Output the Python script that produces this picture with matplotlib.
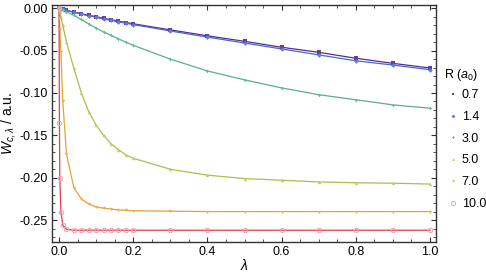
import numpy as np
import matplotlib
matplotlib.use("Agg")
import matplotlib.pyplot as plt
from matplotlib.ticker import MultipleLocator, FormatStrFormatter

plt.rcParams['font.family'] = ['Liberation Sans', 'DejaVu Sans']
plt.rcParams['mathtext.fontset'] = 'custom'
plt.rcParams['mathtext.rm'] = 'Liberation Sans'
plt.rcParams['mathtext.it'] = 'Liberation Sans:italic'

# coupling strength grid
lam = [0, 0.001, 0.002, 0.005, 0.01, 0.02, 0.04, 0.06, 0.08, 0.1, 0.12, 0.14,
       0.16, 0.18, 0.2, 0.3, 0.4, 0.5, 0.6, 0.7, 0.8, 0.9, 1.0]

r_labels = ['0.7', '1.4', '3.0', '5.0', '7.0', '10.0']

w_07 = [0, -0.0001, -0.0003, -0.0007, -0.0013, -0.0025, -0.0045, -0.0065, -0.0083,
        -0.010, -0.0118, -0.0135, -0.0152, -0.0168, -0.0183, -0.0255, -0.0325,
        -0.039, -0.046, -0.052, -0.059, -0.065, -0.0705]
w_14 = [0, -0.0001, -0.0003, -0.0007, -0.0014, -0.0027, -0.0048, -0.0069, -0.0088,
        -0.0107, -0.0125, -0.0143, -0.016, -0.0176, -0.0192, -0.0268, -0.034,
        -0.041, -0.048, -0.055, -0.062, -0.067, -0.0725]
w_30 = [0, -0.0002, -0.0004, -0.001, -0.002, -0.0042, -0.0085, -0.0132, -0.0185,
        -0.0232, -0.028, -0.032, -0.036, -0.040, -0.0437, -0.060, -0.074,
        -0.0845, -0.094, -0.102, -0.108, -0.114, -0.118]
w_50 = [0, -0.002, -0.004, -0.010, -0.020, -0.040, -0.071, -0.100, -0.122,
        -0.138, -0.150, -0.160, -0.167, -0.173, -0.177, -0.190, -0.197,
        -0.201, -0.203, -0.205, -0.206, -0.2065, -0.2075]
w_70 = [0, -0.012, -0.024, -0.052, -0.110, -0.172, -0.212, -0.225, -0.231,
        -0.2345, -0.236, -0.237, -0.238, -0.2385, -0.239, -0.2395, -0.240,
        -0.240, -0.240, -0.240, -0.240, -0.240, -0.240]
w_100 = [0, -0.135, -0.200, -0.240, -0.256, -0.261, -0.262, -0.262, -0.262,
         -0.262, -0.262, -0.262, -0.262, -0.262, -0.262, -0.262, -0.262,
         -0.262, -0.262, -0.262, -0.262, -0.262, -0.262]

series = [w_07, w_14, w_30, w_50, w_70, w_100]
line_colors = ['#5a2a8e', '#4467cc', '#5aae96', '#a9c04e', '#e5a23a', '#e0414e']
mark_colors = ['#6a3a9e', '#5a80dd', '#6cbba4', '#b8cc70', '#eeb050', '#f0a0b0']
markers = ['s', 'D', 'P', '^', 'v', 'o']

fig = plt.figure(figsize=(4.86, 2.72), dpi=100)
ax = fig.add_axes([0.107, 0.110, 0.790, 0.872])

for w, lc, mc, m, lab in zip(series, line_colors, mark_colors, markers, r_labels):
    ax.plot(lam, w, '-', color=lc, lw=0.9, zorder=2)
    if m == 'o':
        ax.plot(lam, w, m, ms=3.2, mfc='none', mec=mc, mew=0.7, zorder=3)
        ax.plot([], [], m, ms=3.0, mfc='none', mec=mc, mew=0.7, label=lab)
    else:
        ax.plot(lam, w, m, ms=2.4, color=mc, mew=0, zorder=3)
        ax.plot([], [], m, ms=2.0, color=mc, mew=0, label=lab)

ax.set_xlim(-0.019, 1.016)
ax.set_ylim(-0.276, 0.004)
ax.xaxis.set_major_locator(MultipleLocator(0.2))
ax.xaxis.set_minor_locator(MultipleLocator(0.05))
ax.yaxis.set_major_locator(MultipleLocator(0.05))
ax.yaxis.set_minor_locator(MultipleLocator(0.01))
ax.xaxis.set_major_formatter(FormatStrFormatter('%.1f'))
ax.yaxis.set_major_formatter(FormatStrFormatter('%.2f'))
ax.tick_params(which='both', direction='in', top=True, right=True,
               labelsize=9, color='#333333', pad=3)
ax.tick_params(which='major', length=3.5, width=0.8)
ax.tick_params(which='minor', length=2, width=0.6)
for s in ax.spines.values():
    s.set_linewidth(1.0)
    s.set_color('#333333')

ax.set_xlabel(r'$\lambda$', fontsize=10, labelpad=0)
ax.set_ylabel(r'$W_{c,\lambda}$ / a.u.', fontsize=10, labelpad=1)

# legend title placed by hand, entries below it
fig.text(444 / 486, 1 - 75 / 272, r'R ($a_0$)', fontsize=9, va='center', ha='left')
ax.legend(loc='upper left', bbox_to_anchor=(1.018, 1 - (83 - 5) / 237),
          frameon=False, fontsize=9, handlelength=0.6, handletextpad=0.4,
          labelspacing=0.78, borderaxespad=0.3, borderpad=0.2)

fig.savefig('out.png', dpi=100)
